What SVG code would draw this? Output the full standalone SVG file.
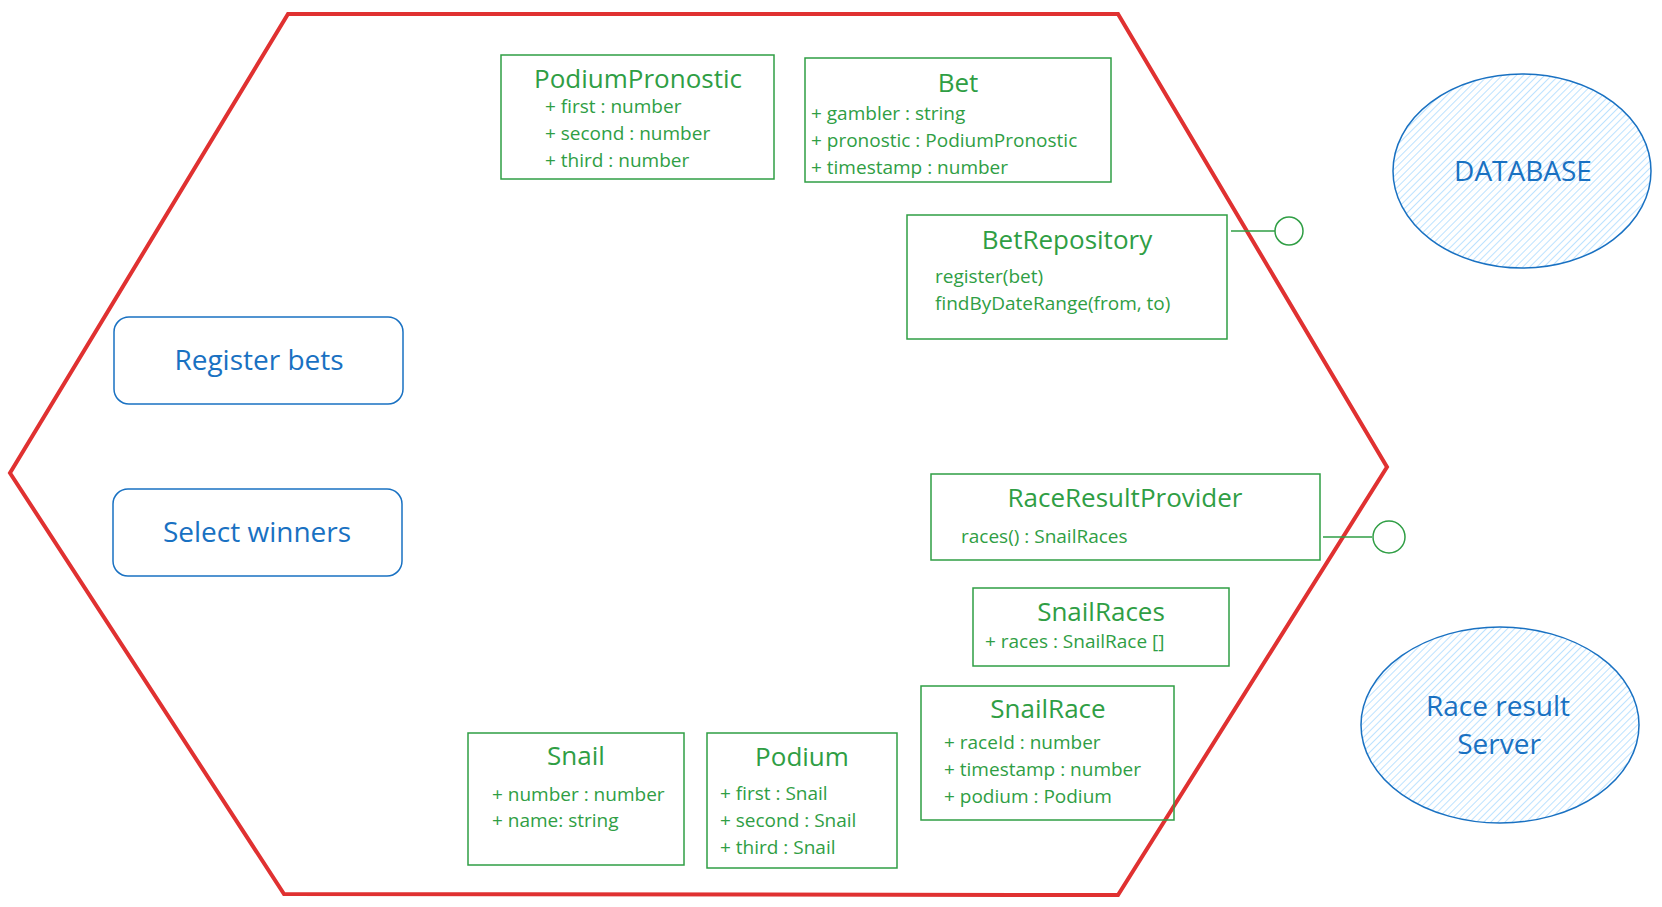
<svg xmlns="http://www.w3.org/2000/svg" width="1662" height="907" viewBox="0 0 1662 907">
<style>
.box{fill:none;stroke:#2f9e44;stroke-width:1.5}
.t{font-family:"Open Sans","Noto Sans",sans-serif;fill:#2f9e44;font-size:26px;font-weight:500;text-anchor:middle}
.a{font-family:"Open Sans","Noto Sans",sans-serif;fill:#2f9e44;font-size:19px;font-weight:500}
.b{font-family:"Open Sans","Noto Sans",sans-serif;fill:#1971c2;font-size:28px;font-weight:500;text-anchor:middle}
.uc{fill:none;stroke:#1971c2;stroke-width:1.5}
.ext{fill:url(#hatch);stroke:#1971c2;stroke-width:1.5}
.lol{fill:none;stroke:#2f9e44;stroke-width:1.5}
</style>
<defs>
<pattern id="hatch" width="5" height="5" patternUnits="userSpaceOnUse" patternTransform="rotate(45)">
<line x1="0" y1="0" x2="0" y2="5" stroke="#a5d8ff" stroke-width="1.5"/>
</pattern>
</defs>
<rect width="1662" height="907" fill="#ffffff"/>
<polygon id="hexagon" points="288,14 1118,14 1387,467 1118,895 284,894 10,473" fill="none" stroke="#e03131" stroke-width="4" stroke-linejoin="miter"/>

<g id="PodiumPronostic">
<rect class="box" x="501" y="55" width="273" height="124"/>
<text class="t" x="638" y="88">PodiumPronostic</text>
<text class="a" x="545" y="113">+ first : number</text>
<text class="a" x="545" y="140">+ second : number</text>
<text class="a" x="545" y="167">+ third : number</text>
</g>

<g id="Bet">
<rect class="box" x="805" y="58" width="306" height="124"/>
<text class="t" x="958" y="92">Bet</text>
<text class="a" x="811" y="120">+ gambler : string</text>
<text class="a" x="811" y="147">+ pronostic : PodiumPronostic</text>
<text class="a" x="811" y="174">+ timestamp : number</text>
</g>

<g id="BetRepository">
<rect class="box" x="907" y="215" width="320" height="124"/>
<text class="t" x="1067" y="249">BetRepository</text>
<text class="a" x="935" y="283">register(bet)</text>
<text class="a" x="935" y="310">findByDateRange(from, to)</text>
</g>

<g id="RaceResultProvider">
<rect class="box" x="931" y="474" width="389" height="86"/>
<text class="t" x="1125" y="507">RaceResultProvider</text>
<text class="a" x="961" y="543">races() : SnailRaces</text>
</g>

<g id="SnailRaces">
<rect class="box" x="973" y="588" width="256" height="78"/>
<text class="t" x="1101" y="621">SnailRaces</text>
<text class="a" x="985" y="648">+ races : SnailRace []</text>
</g>

<g id="SnailRace">
<rect class="box" x="921" y="686" width="253" height="134"/>
<text class="t" x="1048" y="718">SnailRace</text>
<text class="a" x="944" y="749">+ raceId : number</text>
<text class="a" x="944" y="776">+ timestamp : number</text>
<text class="a" x="944" y="803">+ podium : Podium</text>
</g>

<g id="Snail">
<rect class="box" x="468" y="733" width="216" height="132"/>
<text class="t" x="576" y="765">Snail</text>
<text class="a" x="492" y="801">+ number : number</text>
<text class="a" x="492" y="827">+ name: string</text>
</g>

<g id="Podium">
<rect class="box" x="707" y="733" width="190" height="135"/>
<text class="t" x="802" y="766">Podium</text>
<text class="a" x="720" y="800">+ first : Snail</text>
<text class="a" x="720" y="827">+ second : Snail</text>
<text class="a" x="720" y="854">+ third : Snail</text>
</g>

<g id="RegisterBets">
<rect class="uc" x="114" y="317" width="289" height="87" rx="15"/>
<text class="b" x="259" y="370">Register bets</text>
</g>

<g id="SelectWinners">
<rect class="uc" x="113" y="489" width="289" height="87" rx="15"/>
<text class="b" x="257" y="542">Select winners</text>
</g>

<g id="Database">
<ellipse class="ext" cx="1522" cy="171" rx="129" ry="97"/>
<text class="b" x="1523" y="181">DATABASE</text>
</g>

<g id="RaceResultServer">
<ellipse class="ext" cx="1500" cy="725" rx="139" ry="98"/>
<text class="b" x="1498" y="716" font-size="27">Race result</text>
<text class="b" x="1499" y="754" font-size="27">Server</text>
</g>

<g id="connectors">
<line class="lol" x1="1231" y1="231" x2="1275" y2="231"/>
<circle class="lol" cx="1289" cy="231" r="14"/>
<line class="lol" x1="1323" y1="537" x2="1372" y2="537"/>
<circle class="lol" cx="1389" cy="537" r="16"/>
</g>
</svg>
